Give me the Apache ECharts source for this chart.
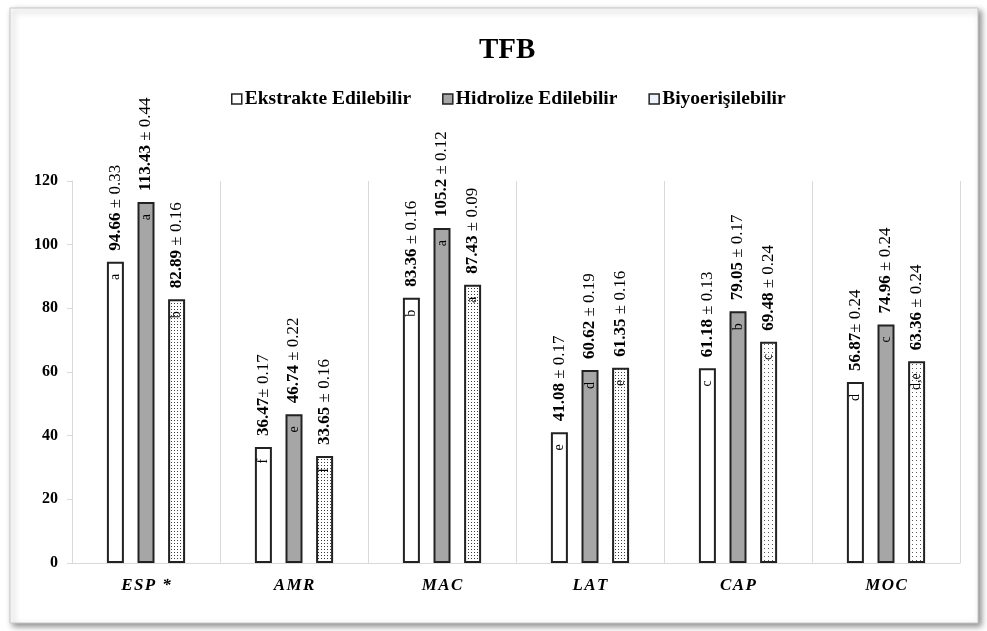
<!DOCTYPE html>
<html>
<head>
<meta charset="utf-8">
<script src="https://cdn.jsdelivr.net/npm/echarts@6/dist/echarts.min.js"></script>
<style>html,body{margin:0;padding:0;background:#fff}#c{width:987px;height:631px}</style>
</head>
<body>
<div id="c"></div>
<script>
var categories = ['ESP *', 'AMR', 'MAC', 'LAT', 'CAP', 'MOC'];
var seriesNames = ['Ekstrakte Edilebilir', 'Hidrolize Edilebilir', 'Biyoerişilebilir'];
var extValues = [94.66, 36.47, 83.36, 41.08, 61.18, 56.87];
var hydValues = [113.43, 46.74, 105.2, 60.62, 79.05, 74.96];
var bioValues = [82.89, 33.65, 87.43, 61.35, 69.48, 63.36];
var extSd = ['0.33', '0.17', '0.16', '0.17', '0.13', '0.24'];
var hydSd = ['0.44', '0.22', '0.12', '0.19', '0.17', '0.24'];
var bioSd = ['0.16', '0.16', '0.09', '0.16', '0.24', '0.24'];
var extSep = [' ', '', ' ', ' ', ' ', ''];
var hydSep = [' ', ' ', ' ', ' ', ' ', ' '];
var bioSep = [' ', ' ', ' ', ' ', ' ', ' '];
var extLetters = ['a', 'f', 'b', 'e', 'c', 'd'];
var hydLetters = ['a', 'e', 'a', 'd', 'b', 'c'];
var bioLetters = ['b', 'f', 'a', 'e', 'c', 'd,e'];
var yTicks = [0, 20, 40, 60, 80, 100, 120];

var FONT = "'Liberation Serif', 'Times New Roman', serif";

function makePattern(step, dot, col) {
  var c = document.createElement('canvas');
  c.width = step; c.height = step;
  var g = c.getContext('2d');
  g.fillStyle = '#ffffff'; g.fillRect(0, 0, step, step);
  g.fillStyle = col; g.fillRect(0, 0, dot, dot);
  return c;
}
var densePat = {image: makePattern(3, 1, '#3c3c3c'), repeat: 'repeat'};
var sparsePat = {image: makePattern(4, 1, '#5a5a5a'), repeat: 'repeat'};

var chart = echarts.init(document.getElementById('c'), null, {renderer: 'canvas'});

function valueLabel(sd, sep) {
  return {
    show: true, position: 'top', rotate: 90, align: 'left', verticalAlign: 'middle', distance: 11,
    formatter: function (p) {
      return '{b|' + p.value + '}{n|' + sep[p.dataIndex] + '\u00b1 ' + sd[p.dataIndex] + '}';
    },
    rich: {
      b: {fontFamily: FONT, fontWeight: 'bold', fontSize: 17, color: '#000'},
      n: {fontFamily: FONT, fontWeight: 'normal', fontSize: 17, color: '#000'}
    }
  };
}

var borderStyle = {borderColor: '#222', borderWidth: 2};

var bioData = bioValues.map(function (v, i) {
  return {value: v, itemStyle: {color: i >= 4 ? sparsePat : densePat}};
});

function letterSeries(vals, letters) {
  return {
    type: 'bar', xAxisIndex: 1, yAxisIndex: 1, data: vals, barWidth: 17, barGap: '80%',
    silent: true, itemStyle: {color: 'rgba(0,0,0,0)'},
    label: {
      show: true, position: 'insideTop', rotate: 90, align: 'right', verticalAlign: 'middle', distance: 12,
      fontFamily: FONT, fontSize: 14, color: '#000',
      formatter: function (p) { return letters[p.dataIndex]; }
    }
  };
}

chart.setOption({
  animation: false,
  backgroundColor: '#fff',
  graphic: [{
    type: 'rect', shape: {x: 10, y: 8, width: 968, height: 615},
    style: {fill: '#fff', stroke: '#c8c8c8', lineWidth: 1, shadowBlur: 6, shadowOffsetX: 3, shadowOffsetY: 3, shadowColor: 'rgba(0,0,0,0.45)'},
    z: -10, silent: true
  }],
  title: {
    text: 'TFB', left: 474, top: 31,
    textStyle: {fontFamily: FONT, fontWeight: 'bold', fontSize: 29, color: '#000'}
  },
  legend: {
    top: 84, left: 226, itemWidth: 10, itemHeight: 10, itemGap: 31, icon: 'rect',
    textStyle: {fontFamily: FONT, fontWeight: 'bold', fontSize: 19.5, color: '#000', padding: [0, 0, 0, -2]},
    data: [
      {name: seriesNames[0], itemStyle: {color: '#fff', borderColor: '#222', borderWidth: 1.5}},
      {name: seriesNames[1], itemStyle: {color: '#a6a6a6', borderColor: '#222', borderWidth: 1.5}},
      {name: seriesNames[2], itemStyle: {color: '#eef2fa', borderColor: '#222', borderWidth: 1.5}}
    ]
  },
  grid: {left: 72, right: 27, top: 181, bottom: 68},
  xAxis: [{
    type: 'category', data: categories,
    axisLine: {show: true, lineStyle: {color: '#d9d9d9', width: 1}},
    axisTick: {show: false},
    splitLine: {show: true, lineStyle: {color: '#d9d9d9', width: 1}},
    axisLabel: {
      margin: 14, fontFamily: FONT, fontWeight: 'bold', fontStyle: 'italic', fontSize: 17, color: '#000',
      formatter: function (v) { return v.split('').join('\u200a'); }
    }
  }, {
    type: 'category', data: categories, show: false
  }],
  yAxis: [{
    type: 'value', min: 0, max: 120, interval: 20,
    axisLine: {show: true, lineStyle: {color: '#d9d9d9', width: 1}},
    axisTick: {show: true, length: 5, lineStyle: {color: '#d9d9d9'}},
    splitLine: {show: false},
    axisLabel: {margin: 14, fontFamily: FONT, fontWeight: 'bold', fontSize: 16, color: '#000',
      formatter: function (v) { return yTicks.indexOf(v) >= 0 ? String(v) : ''; }}
  }, {
    type: 'value', min: 0, max: 120, interval: 20, show: false
  }],
  series: [
    {name: seriesNames[0], type: 'bar', data: extValues, barWidth: 17, barGap: '80%',
      itemStyle: Object.assign({color: '#fff'}, borderStyle), label: valueLabel(extSd, extSep)},
    {name: seriesNames[1], type: 'bar', data: hydValues, barWidth: 17, barGap: '80%',
      itemStyle: Object.assign({color: '#a6a6a6'}, borderStyle), label: valueLabel(hydSd, hydSep)},
    {name: seriesNames[2], type: 'bar', data: bioData, barWidth: 17, barGap: '80%',
      itemStyle: Object.assign({color: '#ececec'}, borderStyle), label: valueLabel(bioSd, bioSep)},
    letterSeries(extValues, extLetters),
    letterSeries(hydValues, hydLetters),
    letterSeries(bioValues, bioLetters)
  ]
});
</script>
</body>
</html>
